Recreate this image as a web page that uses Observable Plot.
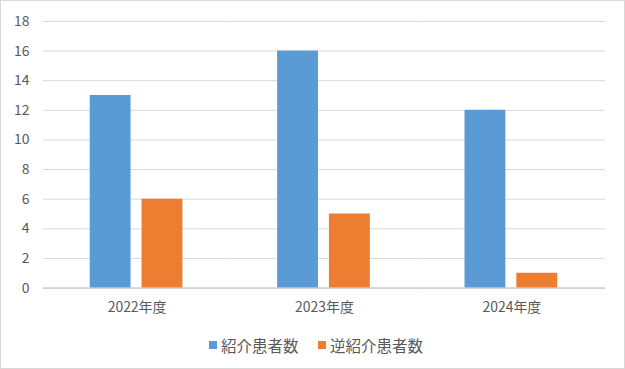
<!DOCTYPE html>
<html><head><meta charset="utf-8">
<script src="https://cdn.jsdelivr.net/npm/d3@7"></script>
<script src="https://cdn.jsdelivr.net/npm/@observablehq/plot@0.6"></script>
<style>
body{margin:0;background:#fff;}
#wrap{position:relative;width:625px;height:369px;border:1px solid #d9d9d9;box-sizing:border-box;font-family:"Noto Sans CJK JP","Noto Sans",sans-serif;color:#595959;background:#fff;}
#chart{position:absolute;left:0;top:0;}
.item{position:absolute;top:334px;height:20px;line-height:20px;font-size:15.5px;white-space:nowrap;display:flex;align-items:center;}
.sw{display:inline-block;width:8px;height:8px;margin-right:4px;}
</style></head>
<body>
<div id="wrap"><div id="chart"></div><div id="legend"></div></div>
<script>
const years = ["2022年度","2023年度","2024年度"];
const series = ["紹介患者数","逆紹介患者数"];
const referral = [13,16,12];
const reverseReferral = [6,5,1];
const colors = ["#5b9bd5","#ed7d31"];
const yTicks = [0,2,4,6,8,10,12,14,16,18];

const data = [];
years.forEach((y,i)=>{
  data.push({year:y, series:series[0], value:referral[i]});
  data.push({year:y, series:series[1], value:reverseReferral[i]});
});

const chart = Plot.plot({
  width:625, height:325,
  marginLeft:41, marginRight:19, marginTop:20, marginBottom:37.5,
  style:{fontFamily:'"Noto Sans CJK JP","Noto Sans",sans-serif', fontSize:"14px", color:"#595959", background:"transparent"},
  fx:{domain:years, padding:0, label:null},
  x:{domain:series, paddingInner:0.2075, paddingOuter:0.88, axis:null},
  y:{domain:[0,18], label:null},
  color:{domain:series, range:colors},
  marks:[
    Plot.gridY(yTicks,{stroke:"#d9d9d9", strokeOpacity:1}),
    Plot.barY(data,{fx:"year", x:"series", y:"value", fill:"series"}),
    Plot.ruleY([0],{stroke:"#bfbfbf"}),
    Plot.axisY(yTicks,{tickSize:0, tickPadding:14, label:null, fill:"#595959"}),
    Plot.axisFx({anchor:"bottom", tickSize:0, tickPadding:14, label:null, fill:"#595959"})
  ]
});
document.getElementById("chart").appendChild(chart);

const lg = document.getElementById("legend");
const lefts = [208, 317];
series.forEach((s,i)=>{
  const d = document.createElement("div");
  d.className = "item";
  d.style.left = lefts[i] + "px";
  d.innerHTML = `<span class="sw" style="background:${colors[i]}"></span><span>${s}</span>`;
  lg.appendChild(d);
});
</script>
</body></html>
